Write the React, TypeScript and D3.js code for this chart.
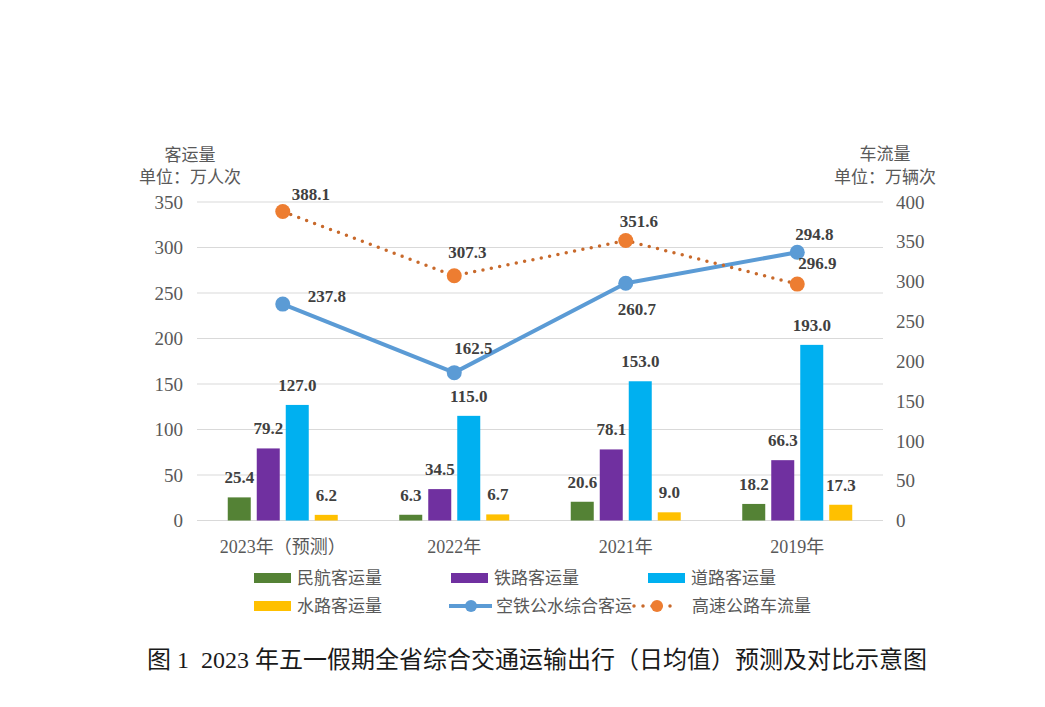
import React from "react";
import * as d3 from "d3";

const categories = ["2023年（预测）", "2022年", "2021年", "2019年"];
const barSeriesNames = ["民航客运量", "铁路客运量", "道路客运量", "水路客运量"];
const civilAviation = [25.4, 6.3, 20.6, 18.2];
const railway = [79.2, 34.5, 78.1, 66.3];
const road = [127.0, 115.0, 153.0, 193.0];
const waterway = [6.2, 6.7, 9.0, 17.3];
const totalPassengerName = "空铁公水综合客运";
const totalPassenger = [237.8, 162.5, 260.7, 294.8];
const highwayName = "高速公路车流量";
const highwayTraffic = [388.1, 307.3, 351.6, 296.9];
const leftTicks = [0, 50, 100, 150, 200, 250, 300, 350];
const rightTicks = [0, 50, 100, 150, 200, 250, 300, 350, 400];

const barColors = ["#548235", "#7030A0", "#00B0F0", "#FFC000"];
const blueLine = "#5B9BD5";
const orangeLine = "#ED7D31";
const orangeDots = "#C8692B";
const serif = "'Liberation Serif', 'Times New Roman', 'Noto Sans CJK SC', serif";
const gray = "#595959";
const labelColor = "#404040";

// label offsets (text centre relative to marker)
const blueOffsets = [[44, -8], [19, -25], [11, 26], [17, -18]];
const orangeOffsets = [[28, -17], [13, -24], [13, -19], [20, -21]];

export default function App() {
  const barData = [civilAviation, railway, road, waterway];
  const left = 197, right = 883, top = 202, bottom = 520.5;
  const x = d3.scaleBand<string>().domain(categories).range([left, right]);
  const yL = d3.scaleLinear().domain([0, 350]).range([bottom, top]);
  const yR = d3.scaleLinear().domain([0, 400]).range([bottom, top]);
  const pad = 6 / 29;
  const xInner = d3.scaleBand<string>().domain(barSeriesNames).range([-58, 58]).paddingInner(pad).paddingOuter(pad / 2);
  const cx = (c: string) => (x(c) as number) + x.bandwidth() / 2;

  const lineGen = (vals: number[], y: d3.ScaleLinear<number, number>) =>
    d3.line<number>().x((_, i) => cx(categories[i])).y((v) => y(v))(vals) || "";

  return (
    <svg width={1045} height={707} style={{ position: "absolute", left: 0, top: 0, background: "#fff" }} fontFamily={serif}>
      <rect width={1045} height={707} fill="#fff" />
      {/* axis titles */}
      <text x={190} y={155} dy="0.35em" textAnchor="middle" fontSize={17} fill={gray}>客运量</text>
      <text x={190} y={177} dy="0.35em" textAnchor="middle" fontSize={17} fill={gray}>单位：万人次</text>
      <text x={885} y={154} dy="0.35em" textAnchor="middle" fontSize={17} fill={gray}>车流量</text>
      <text x={885} y={177} dy="0.35em" textAnchor="middle" fontSize={17} fill={gray}>单位：万辆次</text>

      {/* gridlines + left ticks */}
      {leftTicks.map((t) => (
        <g key={"l" + t}>
          <line x1={left} x2={right} y1={yL(t)} y2={yL(t)} stroke="#d9d9d9" strokeWidth={1.2} />
          <text x={183} y={yL(t)} dy="0.35em" textAnchor="end" fontSize={19} fill={gray}>{t}</text>
        </g>
      ))}
      {rightTicks.map((t) => (
        <text key={"r" + t} x={896} y={yR(t)} dy="0.35em" textAnchor="start" fontSize={19} fill={gray}>{t}</text>
      ))}

      {/* bars */}
      {categories.map((c, i) => (
        <g key={c}>
          {barSeriesNames.map((s, j) => {
            const v = barData[j][i];
            const bx = cx(c) + (xInner(s) as number);
            return (
              <g key={s}>
                <rect x={bx} y={yL(v)} width={xInner.bandwidth()} height={bottom - yL(v)} fill={barColors[j]} />
                <text x={bx + xInner.bandwidth() / 2} y={yL(v) - 20} dy="0.35em" textAnchor="middle" fontSize={17} fontWeight="bold" fill={labelColor}>
                  {v.toFixed(1)}
                </text>
              </g>
            );
          })}
          <text x={cx(c)} y={547} dy="0.35em" textAnchor="middle" fontSize={18} fill={gray}>{c}</text>
        </g>
      ))}

      {/* lines */}
      <path d={lineGen(totalPassenger, yL)} fill="none" stroke={blueLine} strokeWidth={4} strokeLinejoin="round" />
      <path d={lineGen(highwayTraffic, yR)} fill="none" stroke={orangeDots} strokeWidth={3.5} strokeLinecap="round" strokeDasharray="0 8.5" />
      {categories.map((c, i) => (
        <g key={"m" + c}>
          <circle cx={cx(c)} cy={yL(totalPassenger[i])} r={7.5} fill={blueLine} />
          <circle cx={cx(c)} cy={yR(highwayTraffic[i])} r={7.5} fill={orangeLine} />
          <text x={cx(c) + blueOffsets[i][0]} y={yL(totalPassenger[i]) + blueOffsets[i][1]} dy="0.35em" textAnchor="middle" fontSize={17} fontWeight="bold" fill={labelColor}>
            {totalPassenger[i].toFixed(1)}
          </text>
          <text x={cx(c) + orangeOffsets[i][0]} y={yR(highwayTraffic[i]) + orangeOffsets[i][1]} dy="0.35em" textAnchor="middle" fontSize={17} fontWeight="bold" fill={labelColor}>
            {highwayTraffic[i].toFixed(1)}
          </text>
        </g>
      ))}

      {/* legend */}
      {[
        { x: 254, y: 578, i: 0 },
        { x: 451, y: 578, i: 1 },
        { x: 648, y: 578, i: 2 },
        { x: 254, y: 606, i: 3 },
      ].map((l) => (
        <g key={"lg" + l.i}>
          <rect x={l.x} y={l.y - 5} width={37} height={10} fill={barColors[l.i]} />
          <text x={l.x + 43} y={l.y} dy="0.35em" fontSize={17} fill={gray}>{barSeriesNames[l.i]}</text>
        </g>
      ))}
      <g>
        <line x1={449} x2={492} y1={606} y2={606} stroke={blueLine} strokeWidth={4} />
        <circle cx={471} cy={606} r={6} fill={blueLine} />
        <text x={496} y={606} dy="0.35em" fontSize={17} fill={gray}>{totalPassengerName}</text>
      </g>
      <g>
        <line x1={634} x2={672} y1={606} y2={606} stroke={orangeDots} strokeWidth={3.5} strokeLinecap="round" strokeDasharray="0 9" />
        <circle cx={657} cy={606} r={6} fill={orangeLine} />
        <text x={692} y={606} dy="0.35em" fontSize={17} fill={gray}>{highwayName}</text>
      </g>

      {/* title */}
      <text x={537} y={660} dy="0.35em" textAnchor="middle" fontSize={24} fill="#1a1a1a" style={{ whiteSpace: "pre" }}>
        {"图 1  2023 年五一假期全省综合交通运输出行（日均值）预测及对比示意图"}
      </text>
    </svg>
  );
}
